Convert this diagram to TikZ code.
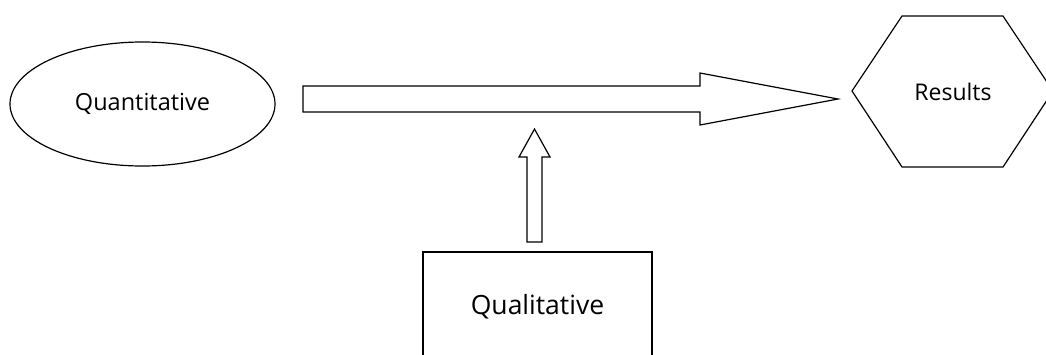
\documentclass[tikz,border=0pt]{standalone}
\usepackage{fontspec}
\setmainfont{Open Sans}
\usetikzlibrary{shapes.geometric}

\begin{document}
\begin{tikzpicture}[x=1pt,y=-1pt]
\tikzset{outline/.style={ %
		draw=black,
		line width=1.2pt,
		line join=miter %
	},
	word/.style={font=\fontsize{#1}{#1}\selectfont}
}
\useasboundingbox (0,0) rectangle (1046,354);
\node[outline,ellipse,minimum width=265pt,minimum height=124pt,word=23.5] (quant) at (142.5,104) {Quantitative};
\draw[outline] (852,91) -- (902,16) -- (1003,16) -- (1053,91) -- (1003,167) -- (902,167) -- cycle;
\node[word=23] (res) at (953,92) {Results};
\node[outline,minimum width=229pt,minimum height=110pt,word=26.5] (qual) at (537.5,307) {Qualitative};
% block arrows
\draw[outline] (303,86) -- (700,86) -- (700,73) -- (838,99) -- (700,125) -- (700,112) -- (303,112) -- cycle;
\draw[outline] (527,242) -- (527,157) -- (519,157) -- (534.5,129) -- (550,157) -- (542,157) -- (542,242) -- cycle;
\end{tikzpicture}
\end{document}
